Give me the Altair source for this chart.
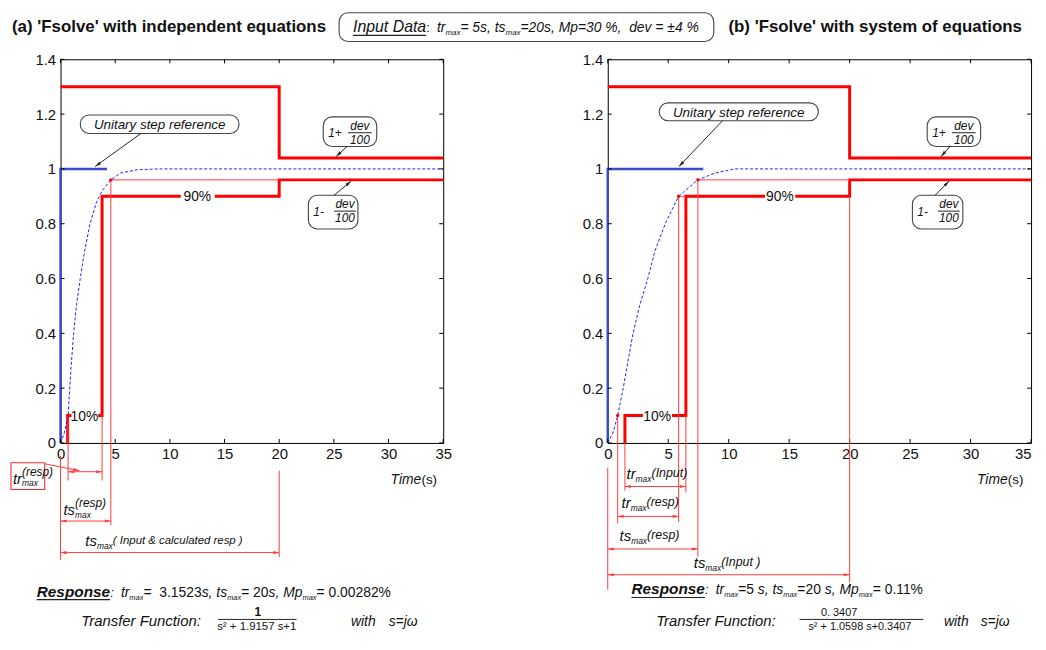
import math
import altair as alt
import pandas as pd

# ------------------------------------------------------------------ data
x_ticks = [0, 5, 10, 15, 20, 25, 30, 35]
y_ticks = [0, 0.2, 0.4, 0.6, 0.8, 1, 1.2, 1.4]

upper_t = [0, 20, 20, 35]
upper_y = [1.3, 1.3, 1.04, 1.04]

# panel (a) 'Fsolve' with independent equations
a_lower_t = [0.65, 0.65, 3.8, 3.8, 20, 20, 35]
a_lower_y = [0, 0.1, 0.1, 0.9, 0.9, 0.96, 0.96]
a_step_t = [0, 0, 4.25]
a_step_y = [0, 1, 1]
a_resp_t = [0, 0.3, 0.69, 0.95, 1.2, 1.45, 1.8, 2.2, 2.7, 3.3, 3.8, 4.6, 5.5, 7.0, 9.0, 35]
a_resp_y = [0, 0.03, 0.1, 0.27, 0.4, 0.5, 0.6, 0.7, 0.8, 0.88, 0.92, 0.96, 0.985, 0.997, 1.0, 1.0]
a_t10, a_t90, a_ts = 0.69, 3.8, 4.6

# panel (b) 'Fsolve' with system of equations
b_lower_t = [1.42, 1.42, 6.46, 6.46, 20, 20, 35]
b_lower_y = [0, 0.1, 0.1, 0.9, 0.9, 0.96, 0.96]
b_step_t = [0, 0, 7.9]
b_step_y = [0, 1, 1]
b_resp_t = [0, 0.45, 0.82, 1.28, 1.68, 2.09, 2.63, 3.31, 3.9, 4.75, 5.86, 7.45, 8.87, 10.5, 35]
b_resp_y = [0, 0.04, 0.1, 0.2, 0.3, 0.4, 0.5, 0.6, 0.7, 0.8, 0.9, 0.96, 0.985, 1.0, 1.0]
b_t10, b_t90, b_ts = 0.82, 5.86, 7.45
b_in10, b_in90 = 1.42, 6.46
ts_input = 20

# ------------------------------------------------------------------ style
FONT = "Liberation Sans"
RED = "#ff0000"
BLUE = "#3c4cc8"
CURVE = "#2020ff"
INK = "#111111"
STYLES = {"thin": ("#ff3c3c", 1), "ink": ("#222222", 1), "tick": ("#000000", 1),
          "uline": ("#222222", 1.2)}
TOP_STYLES = ("ink", "uline")
H = 387
PYU = H / 1.4
HEAD_SIZE = 40
HEAD_R = math.sqrt(HEAD_SIZE) / 2
HEAD_PATH = "M0,-1L0.5,0.9L-0.5,0.9Z"

W_REG = {' ': 278, '%': 889, '&': 667, "'": 191, '(': 333, ')': 333, '+': 584, ',': 278,
         '-': 333, '.': 278, ':': 278, '=': 584, '±': 584, '²': 333, 'ω': 700,
         'A': 667, 'B': 667, 'C': 722, 'D': 722, 'E': 667, 'F': 611, 'G': 778, 'H': 722,
         'I': 278, 'J': 500, 'K': 667, 'L': 556, 'M': 833, 'N': 722, 'O': 778, 'P': 667,
         'R': 722, 'S': 667, 'T': 611, 'U': 722, 'V': 667, 'W': 944,
         'a': 556, 'b': 556, 'c': 500, 'd': 556, 'e': 556, 'f': 278, 'g': 556, 'h': 556,
         'i': 222, 'j': 222, 'k': 500, 'l': 222, 'm': 833, 'n': 556, 'o': 556, 'p': 556,
         'q': 556, 'r': 333, 's': 500, 't': 278, 'u': 556, 'v': 500, 'w': 722, 'x': 500,
         'y': 500, 'z': 500}
W_BOLD = {' ': 278, "'": 238, '(': 333, ')': 333, 'a': 556, 'b': 611, 'c': 556, 'd': 611,
          'e': 556, 'f': 333, 'g': 611, 'h': 611, 'i': 278, 'l': 278, 'm': 889, 'n': 611,
          'o': 611, 'p': 611, 'q': 611, 'r': 389, 's': 556, 't': 333, 'u': 611, 'v': 556,
          'w': 778, 'y': 556, 'F': 611, 'R': 722}


def tw(s, size, bold=False):
    tab = W_BOLD if bold else W_REG
    return sum(tab.get(ch, W_REG.get(ch, 556)) for ch in s) * size / 1000.0


def make_axes(flush_last):
    xkw = dict(values=x_ticks, title=None, grid=False, ticks=False, domain=False,
               labelFont=FONT, labelFontSize=15, labelColor=INK, labelPadding=4,
               format="~g", labelFlush=False, labelOverlap=False)
    if flush_last:
        xkw["labelAlign"] = {"condition": {"test": "datum.value >= 35", "value": "right"},
                             "value": "center"}
    xax = alt.Axis(**xkw)
    yax = alt.Axis(values=y_ticks, title=None, grid=False, ticks=False, domain=False,
                   labelFont=FONT, labelFontSize=15, labelColor=INK, labelPadding=5,
                   format="~g", labelFlush=False, labelOverlap=False)
    return xax, yax


XS = alt.Scale(domain=[0, 35], nice=False, zero=False)
YS = alt.Scale(domain=[0, 1.4], nice=False, zero=False)


class Panel:
    def __init__(self, width, flush_last=False):
        self.width = width
        self.pxu = width / 35.0
        self.xax, self.yax = make_axes(flush_last)
        self.polys, self.heads, self.boxes = [], [], []
        self.texts, self.dots, self.masks = [], [], []
        self.rules = {}

    def X(self, f):
        return alt.X(f, type="quantitative", scale=XS, axis=self.xax)

    def Y(self, f):
        return alt.Y(f, type="quantitative", scale=YS, axis=self.yax)

    def poly(self, ts, ys, color, width, dash=None):
        df = pd.DataFrame({"t": ts, "y": ys, "i": list(range(len(ts)))})
        self.polys.append((df, color, width, dash))

    def seg(self, t1, y1, t2, y2, style="thin"):
        self.rules.setdefault(style, []).append(dict(t=t1, y=y1, t2=t2, y2=y2))

    def head(self, t1, y1, t2, y2, style):
        dx = (t2 - t1) * self.pxu
        dy = -(y2 - y1) * PYU
        L = math.hypot(dx, dy)
        ux, uy = dx / L, dy / L
        ang = math.degrees(math.atan2(ux, -uy)) % 360
        self.heads.append(dict(t=t2 - HEAD_R * ux / self.pxu, y=y2 + HEAD_R * uy / PYU,
                               a=ang, c=STYLES[style][0]))

    def arrow(self, t1, y1, t2, y2, style="ink"):
        self.seg(t1, y1, t2, y2, style)
        self.head(t1, y1, t2, y2, style)

    def bracket(self, t1, t2, y, style="thin"):
        self.seg(t1, y, t2, y, style)
        m = (t1 + t2) / 2
        self.head(m, y, t1, y, style)
        self.head(m, y, t2, y, style)

    def box(self, t1, y1, t2, y2, stroke="#444444", r=9):
        self.boxes.append(dict(t=t1, y=y1, t2=t2, y2=y2, s=stroke, r=r))

    def mask(self, t1, y1, t2, y2):
        self.masks.append(dict(t=t1, y=y1, t2=t2, y2=y2))

    def runs(self, t, y, parts, align="left", color=INK):
        items = []
        for p in parts:
            adv = p[5] if len(p) > 5 else True
            items.append((p[0], p[1], p[2], p[3], p[4], adv))
        total = sum(tw(it[0], it[1], it[3]) for it in items if it[5])
        off = 0 if align == "left" else -total / 2
        start = off
        for text, size, ital, bold, dy, adv in items:
            self.texts.append(dict(x=t + off / self.pxu, y=y - dy / PYU,
                                   text=text.replace(" ", "\u00a0"), size=size,
                                   it="italic" if ital else "normal",
                                   bw="bold" if bold else "normal", c=color))
            if adv:
                off += tw(text, size, bold)
        return t + start / self.pxu, total / self.pxu


def common(p, lower_t, lower_y, step_t, step_y, resp_t, resp_y):
    # inward ticks (MATLAB style)
    for v in x_ticks:
        p.seg(v, 0, v, 4 / PYU, "tick")
        p.seg(v, 1.4, v, 1.4 - 4 / PYU, "tick")
    for v in y_ticks:
        p.seg(0, v, 4 / p.pxu, v, "tick")
        p.seg(35, v, 35 - 4 / p.pxu, v, "tick")
    p.poly(upper_t, upper_y, RED, 3)
    p.poly(lower_t, lower_y, RED, 3)
    p.poly(step_t, step_y, BLUE, 2.5)
    p.poly(resp_t, resp_y, CURVE, 1, [3, 2])


def rule_layer(p, style, rows):
    col, wid = STYLES[style]
    return alt.Chart(pd.DataFrame(rows)).mark_rule(color=col, strokeWidth=wid).encode(
        x=p.X("t"), y=p.Y("y"), x2=alt.X2("t2"), y2=alt.Y2("y2"))


def build(p):
    layers = []
    for df, color, width, dash in p.polys:
        kw = dict(color=color, strokeWidth=width)
        if dash:
            kw["strokeDash"] = dash
        layers.append(alt.Chart(df).mark_line(**kw).encode(
            x=p.X("t"), y=p.Y("y"), order=alt.Order("i:Q")))
    for style, rows in p.rules.items():
        if style not in TOP_STYLES:
            layers.append(rule_layer(p, style, rows))
    if p.masks:
        layers.append(alt.Chart(pd.DataFrame(p.masks)).mark_rect(color="white").encode(
            x=p.X("t"), y=p.Y("y"), x2=alt.X2("t2"), y2=alt.Y2("y2")))
    bdf = pd.DataFrame(p.boxes)
    for (s, r), g in bdf.groupby(["s", "r"]):
        layers.append(alt.Chart(g).mark_rect(fill="white", stroke=s, strokeWidth=1.1,
                                             cornerRadius=int(r)).encode(
            x=p.X("t"), y=p.Y("y"), x2=alt.X2("t2"), y2=alt.Y2("y2")))
    for style, rows in p.rules.items():
        if style in TOP_STYLES:
            layers.append(rule_layer(p, style, rows))
    tdf = pd.DataFrame(p.texts)
    for (it, bw), g in tdf.groupby(["it", "bw"]):
        layers.append(alt.Chart(g).mark_text(align="left", baseline="alphabetic", font=FONT,
                                             fontStyle=it, fontWeight=bw).encode(
            x=p.X("x"), y=p.Y("y"), text="text:N",
            size=alt.Size("size:Q", scale=None), color=alt.Color("c:N", scale=None)))
    layers.append(alt.Chart(pd.DataFrame(p.heads)).mark_point(
        shape=HEAD_PATH, filled=True, size=HEAD_SIZE, opacity=1, strokeWidth=0).encode(
        x=p.X("t"), y=p.Y("y"), angle=alt.Angle("a:Q", scale=None),
        color=alt.Color("c:N", scale=None)))
    if p.dots:
        layers.append(alt.Chart(pd.DataFrame(p.dots)).mark_circle(
            size=12, color=RED, opacity=1).encode(x=p.X("t"), y=p.Y("y")))
    return alt.layer(*layers).properties(width=p.width, height=H)


I, N = True, False

# ================================================================== panel (a)
A = Panel(386)
common(A, a_lower_t, a_lower_y, a_step_t, a_step_y, a_resp_t, a_resp_y)
A.seg(a_t10, 0.1, a_t10, -0.137)
A.seg(a_t90, 0.1, a_t90, -0.137)
A.seg(a_ts, 0.96, a_ts, -0.30)
A.seg(a_ts, 0.96, 20, 0.96)
A.seg(0, -0.047, 0, -0.427)
A.seg(ts_input, -0.101, ts_input, -0.416)
A.dots += [dict(t=a_t10, y=0.1), dict(t=a_ts, y=0.96)]
A.bracket(a_t10, a_t90, -0.105)
A.bracket(0, a_ts, -0.285)
A.bracket(0, ts_input, -0.40)
A.mask(1.0, 0.075, 3.45, 0.125)
A.runs(2.18, 0.1 - 5 / PYU, [("10%", 14, N, N, 0)], align="center")
A.mask(11.0, 0.875, 14.1, 0.925)
A.runs(12.51, 0.9 - 5 / PYU, [("90%", 14, N, N, 0)], align="center")
A.runs(-4.44, 1.501, [("(a) 'Fsolve' with independent equations", 17, N, True, 0)])
A.box(25.48, 1.57, 59.75, 1.465)
A.runs(26.75, 1.498, [("Input Data", 16, I, N, 0), (" : ", 13, N, N, 0),
                      ("tr", 14, I, N, 0), ("max", 8, I, N, 3),
                      ("= 5s, ts", 14, I, N, 0), ("max", 8, I, N, 3),
                      ("=20s, Mp=30 %,  dev = \u00b14 %", 14, I, N, 0)])
A.seg(26.75, 1.487, 26.75 + tw("Input Data", 16) / A.pxu, 1.487, "uline")
A.box(1.81, 1.197, 16.32, 1.129)
A.runs(9.07, 1.145, [("Unitary step reference", 13.5, I, N, 0)], align="center")
A.arrow(7.34, 1.129, 3.17, 1.009)
A.box(24.03, 1.19, 28.92, 1.082)
A.runs(24.48, 1.118, [("1+", 12, I, N, 0)])
A.runs(27.38, 1.143, [("dev", 12, I, N, 0)], align="center")
A.seg(26.29, 1.132, 28.47, 1.132, "ink")
A.runs(27.38, 1.092, [("100", 12, I, N, 0)], align="center")
A.arrow(26.2, 1.082, 25.21, 1.045)
A.box(22.67, 0.904, 27.2, 0.781)
A.runs(23.12, 0.828, [("1-", 12, I, N, 0)])
A.runs(26.02, 0.857, [("dev", 12, I, N, 0)], align="center")
A.seg(25.03, 0.846, 27.02, 0.846, "ink")
A.runs(26.02, 0.806, [("100", 12, I, N, 0)], align="center")
A.arrow(25.03, 0.904, 26.57, 0.955)
A.box(-4.53, -0.072, -1.45, -0.17, stroke="#ff2a2a", r=0)
A.arrow(-1.45, -0.076, 1.72, -0.101, "thin")
A.runs(-4.35, -0.148, [("tr", 15, I, N, 0), ("max", 8.5, I, N, 3, False),
                        ("(resp)", 12, I, N, -8)])
A.runs(0.27, -0.262, [("ts", 15, I, N, 0), ("max", 8.5, I, N, 3, False),
                       ("(resp)", 12, I, N, -8)])
A.runs(2.27, -0.376, [("ts", 15, I, N, 0), ("max", 8.5, I, N, 3),
                       (" ( Input & calculated resp )", 11.5, I, N, -2)])
A.runs(30.19, -0.148, [("Time", 14, I, N, 0), (" (s)", 13.5, N, N, 0)])
A.runs(-2.18, -0.561, [("Response", 15.5, I, True, 0), (" : ", 13, I, N, 0),
                       ("tr", 14, I, N, 0), ("max", 7.5, I, N, 3),
                       ("=  3.1523", 14, N, N, 0), ("s, ts", 14, I, N, 0),
                       ("max", 7.5, I, N, 3), ("= 20", 14, N, N, 0),
                       ("s, Mp", 14, I, N, 0), ("max", 7.5, I, N, 3),
                       ("= 0.00282%", 14, N, N, 0)])
A.seg(-2.18, -0.572, -2.18 + tw("Response", 15.5, True) / A.pxu, -0.572, "uline")
A.runs(1.9, -0.669, [("Transfer Function:", 15, I, N, 0)])
A.runs(18.04, -0.633, [("1", 12, N, True, 0)], align="center")
A.seg(14.42, -0.644, 21.58, -0.644, "ink")
A.runs(17.95, -0.684, [("s\u00b2 + 1.9157 s+1", 11.5, N, N, 0)], align="center")
A.runs(26.57, -0.669, [("with", 14, I, N, 0)])
A.runs(30.01, -0.669, [("s=j\u03c9", 14, I, N, 0)])

# ================================================================== panel (b)
B = Panel(427, flush_last=True)
common(B, b_lower_t, b_lower_y, b_step_t, b_step_y, b_resp_t, b_resp_y)
B.seg(b_t10, 0.1, b_t10, -0.293)
B.seg(b_in10, 0, b_in10, -0.174)
B.seg(b_t90, 0.9, b_t90, -0.289)
B.seg(b_in90, 0.1, b_in90, -0.181)
B.seg(b_ts, 0.96, b_ts, -0.416)
B.seg(ts_input, 0.9, ts_input, -0.51)
B.seg(0, -0.09, 0, -0.535)
B.seg(b_ts, 0.96, 20, 0.96)
B.seg(b_t90, 0.9, b_in90, 0.9)
B.dots += [dict(t=b_t10, y=0.1), dict(t=b_t90, y=0.9), dict(t=b_ts, y=0.96)]
B.bracket(b_in10, b_in90, -0.159)
B.bracket(b_t10, b_t90, -0.268)
B.bracket(0, b_ts, -0.387)
B.bracket(0, ts_input, -0.481)
B.mask(2.9, 0.075, 5.3, 0.125)
B.runs(4.09, 0.1 - 5 / PYU, [("10%", 14, N, N, 0)], align="center")
B.mask(13.0, 0.875, 15.5, 0.925)
B.runs(14.23, 0.9 - 5 / PYU, [("90%", 14, N, N, 0)], align="center")
B.runs(9.98, 1.501, [("(b) 'Fsolve' with system of equations", 17, N, True, 0)])
B.box(4.25, 1.241, 17.42, 1.176)
B.runs(10.83, 1.19, [("Unitary step reference", 13.5, I, N, 0)], align="center")
B.arrow(9.49, 1.176, 5.89, 1.009)
B.box(26.41, 1.19, 30.83, 1.082)
B.runs(26.82, 1.118, [("1+", 12, I, N, 0)])
B.runs(29.44, 1.143, [("dev", 12, I, N, 0)], align="center")
B.seg(28.46, 1.132, 30.42, 1.132, "ink")
B.runs(29.44, 1.092, [("100", 12, I, N, 0)], align="center")
B.arrow(28.29, 1.082, 27.56, 1.045)
B.box(25.19, 0.904, 29.36, 0.781)
B.runs(25.6, 0.828, [("1-", 12, I, N, 0)])
B.runs(28.21, 0.857, [("dev", 12, I, N, 0)], align="center")
B.seg(27.31, 0.846, 29.11, 0.846, "ink")
B.runs(28.21, 0.806, [("100", 12, I, N, 0)], align="center")
B.arrow(27.07, 0.904, 28.21, 0.955)
B.runs(1.55, -0.13, [("tr", 15, I, N, 0), ("max", 8.5, I, N, 3), ("(Input)", 12.5, I, N, -2)])
B.runs(1.14, -0.239, [("tr", 15, I, N, 0), ("max", 8.5, I, N, 3), ("(resp)", 12.5, I, N, -2)])
B.runs(0.98, -0.358, [("ts", 15, I, N, 0), ("max", 8.5, I, N, 3), ("(resp)", 12.5, I, N, -2)])
B.runs(7.11, -0.456, [("ts", 15, I, N, 0), ("max", 8.5, I, N, 3), ("(Input )", 12.5, I, N, -2)])
B.runs(30.53, -0.148, [("Time", 14, I, N, 0), (" (s)", 13.5, N, N, 0)])
B.runs(1.96, -0.553, [("Response", 15.5, I, True, 0), (" : ", 13, I, N, 0),
                       ("tr", 14, I, N, 0), ("max", 7.5, I, N, 3), ("=5 ", 14, N, N, 0),
                       ("s, ts", 14, I, N, 0), ("max", 7.5, I, N, 3), ("=20 ", 14, N, N, 0),
                       ("s, Mp", 14, I, N, 0), ("max", 7.5, I, N, 3), ("= 0.11%", 14, N, N, 0)])
B.seg(1.96, -0.564, 1.96 + tw("Response", 15.5, True) / B.pxu, -0.564, "uline")
B.runs(4.0, -0.669, [("Transfer Function:", 15, I, N, 0)])
B.runs(19.13, -0.633, [("0. 3407", 11, N, N, 0)], align="center")
B.seg(15.86, -0.644, 26.09, -0.644, "ink")
B.runs(20.85, -0.684, [("s\u00b2 + 1.0598 s+0.3407", 11, N, N, 0)], align="center")
B.runs(27.8, -0.669, [("with", 14, I, N, 0)])
B.runs(30.83, -0.669, [("s=j\u03c9", 14, I, N, 0)])

chart = alt.hconcat(build(A), build(B), spacing=166, bounds="flush").properties(
    padding={"left": 1, "top": 0, "right": 0, "bottom": 0}
).configure_view(stroke="black", strokeWidth=1)

chart.save("out.html", embed_options={"renderer": "svg", "actions": False})
